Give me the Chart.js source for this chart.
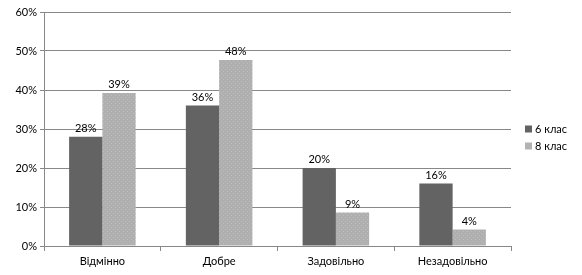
<!DOCTYPE html>
<html>
<head>
<meta charset="utf-8">
<script src="https://cdn.jsdelivr.net/npm/chart.js@4/dist/chart.umd.min.js"></script>
<style>
html,body{margin:0;padding:0;background:#fff;}
#wrap{width:582px;height:275px;}
</style>
</head>
<body>
<div id="wrap"><canvas id="c" width="582" height="275"></canvas></div>
<script>
const categories = ['Відмінно', 'Добре', 'Задовільно', 'Незадовільно'];
const seriesNames = ['6 клас', '8 клас'];
const grade6 = [28, 36, 20, 16];
const grade8 = [39.2, 47.7, 8.6, 4.2];
const yTicks = [0, 10, 20, 30, 40, 50, 60];

const FONT = 'Lato, "Open Sans", sans-serif';

function makePattern() {
  const p = document.createElement('canvas');
  p.width = 4; p.height = 4;
  const g = p.getContext('2d');
  g.fillStyle = '#afafaf';
  g.fillRect(0, 0, 4, 4);
  g.fillStyle = '#bdbdbd';
  g.fillRect(1, 1, 1, 1);
  g.fillRect(3, 3, 1, 1);
  return document.getElementById('c').getContext('2d').createPattern(p, 'repeat');
}
const lightFill = makePattern();
const darkFill = '#636363';

const valueLabels = {
  id: 'valueLabels',
  afterDatasetsDraw(chart) {
    const ctx = chart.ctx;
    ctx.save();
    ctx.font = '11px ' + FONT;
    ctx.fillStyle = '#000';
    ctx.textAlign = 'center';
    ctx.textBaseline = 'bottom';
    chart.data.datasets.forEach((ds, di) => {
      const meta = chart.getDatasetMeta(di);
      meta.data.forEach((bar, i) => {
        ctx.fillText(Math.round(ds.data[i]) + '%', bar.x, bar.y - 3);
      });
    });
    ctx.restore();
  }
};

const sideLegend = {
  id: 'sideLegend',
  afterDraw(chart) {
    const ctx = chart.ctx;
    ctx.save();
    ctx.font = '11px ' + FONT;
    ctx.textBaseline = 'middle';
    ctx.textAlign = 'left';
    const x = chart.chartArea.right + 14;
    const y0 = 129;
    chart.data.datasets.forEach((ds, i) => {
      const y = y0 + i * 17;
      ctx.fillStyle = i === 0 ? darkFill : '#b3b3b3';
      ctx.fillRect(x, y - 3.5, 7, 7);
      ctx.fillStyle = '#000';
      ctx.fillText(ds.label, x + 10, y);
    });
    ctx.restore();
  }
};

new Chart(document.getElementById('c'), {
  type: 'bar',
  data: {
    labels: categories,
    datasets: [
      { label: seriesNames[0], data: grade6, backgroundColor: darkFill },
      { label: seriesNames[1], data: grade8, backgroundColor: lightFill }
    ]
  },
  options: {
    responsive: false,
    animation: false,
    devicePixelRatio: 1,
    layout: { padding: { top: 12, right: 71, left: 0, bottom: 0 } },
    plugins: { legend: { display: false }, tooltip: { enabled: false } },
    datasets: { bar: { categoryPercentage: 0.57, barPercentage: 1.0 } },
    scales: {
      x: {
        afterFit(s) { s.height = 29; },
        grid: { drawOnChartArea: false, tickLength: 5, color: '#888', offset: true },
        border: { color: '#888' },
        ticks: { color: '#000', font: { family: FONT, size: 11 }, padding: 4 }
      },
      y: {
        min: 0, max: 60,
        afterFit(s) { s.width = 44; },
        afterBuildTicks(s) { s.ticks = yTicks.map(v => ({ value: v })); },
        grid: { color: '#888', tickLength: 4 },
        border: { color: '#888' },
        ticks: { color: '#000', font: { family: FONT, size: 11 }, padding: 3, callback: v => v + '%' }
      }
    }
  },
  plugins: [valueLabels, sideLegend]
});
</script>
</body>
</html>
